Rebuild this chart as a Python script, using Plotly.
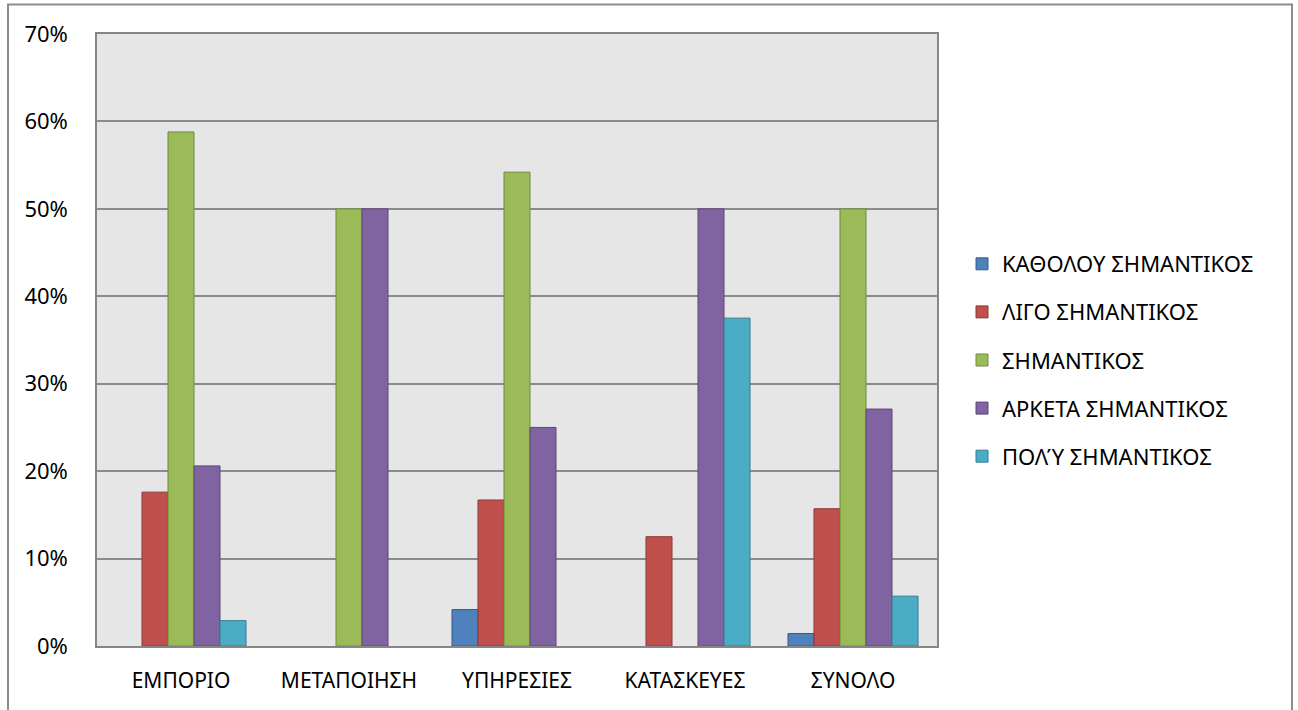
import plotly.graph_objects as go

categories = ["ΕΜΠΟΡΙΟ", "ΜΕΤΑΠΟΙΗΣΗ", "ΥΠΗΡΕΣΙΕΣ", "ΚΑΤΑΣΚΕΥΕΣ", "ΣΥΝΟΛΟ"]
series_names = ["ΚΑΘΟΛΟΥ ΣΗΜΑΝΤΙΚΟΣ", "ΛΙΓΟ ΣΗΜΑΝΤΙΚΟΣ", "ΣΗΜΑΝΤΙΚΟΣ",
                "ΑΡΚΕΤΑ ΣΗΜΑΝΤΙΚΟΣ", "ΠΟΛΎ ΣΗΜΑΝΤΙΚΟΣ"]
# None = no bar shown (0%)
katholou = [None, None, 0.0417, None, 0.0143]
ligo = [0.176, None, 0.167, 0.125, 0.157]
simantikos = [0.588, 0.50, 0.542, None, 0.50]
arketa = [0.206, 0.50, 0.25, 0.50, 0.271]
poly = [0.029, None, None, 0.375, 0.057]
values = [katholou, ligo, simantikos, arketa, poly]
fills = ["#4F81BD", "#C0504D", "#9BBB59", "#8064A2", "#4BACC6"]
edges = ["#385D8A", "#8C3836", "#71893F", "#5C4776", "#357D91"]
yticks = [0, 0.1, 0.2, 0.3, 0.4, 0.5, 0.6, 0.7]

FONT = "Noto Sans"

fig = go.Figure()
for i, (name, vals) in enumerate(zip(series_names, values)):
    fig.add_trace(go.Bar(
        x=categories, y=vals, name=name,
        marker=dict(color=fills[i], line=dict(color=edges[i], width=1)),
        legendgroup=f"g{i}",
    ))

W, H = 1298, 710
L, R, T, B = 97, 937, 34, 646
pw, ph = R - L, B - T

def px_x(x):
    return (x - L) / pw

def px_y(y):
    return (B - y) / ph

fig.update_layout(
    width=W, height=H,
    margin=dict(l=L, r=W - R, t=T, b=H - B, pad=0),
    paper_bgcolor="white",
    plot_bgcolor="#E6E6E6",
    barmode="group",
    bargap=0.226,
    bargroupgap=0,
    font=dict(family=FONT, size=21, color="#000000"),
    showlegend=True,
    legend=dict(
        x=px_x(962), xanchor="left",
        y=px_y(360), yanchor="middle",
        traceorder="grouped",
        tracegroupgap=16.5,
        font=dict(family=FONT, size=22, color="#000000"),
        itemwidth=30,
        bgcolor="rgba(0,0,0,0)",
    ),
    xaxis=dict(
        showgrid=False,
        showline=True, linecolor="#868686", linewidth=1.5, mirror=True,
        ticks="outside", ticklen=15, tickcolor="rgba(0,0,0,0)",
        tickfont=dict(family=FONT, size=21),
    ),
    yaxis=dict(
        range=[0, 0.7],
        tickvals=yticks,
        tickformat=".0%",
        showgrid=True, gridcolor="#8C8C8C", gridwidth=1.5,
        showline=True, linecolor="#868686", linewidth=1.5, mirror=True,
        zeroline=False,
        ticks="outside", ticklen=23, tickcolor="rgba(0,0,0,0)",
        tickfont=dict(family=FONT, size=22),
    ),
    shapes=[dict(
        type="rect", xref="paper", yref="paper",
        x0=px_x(8), x1=px_x(1292), y0=px_y(730), y1=px_y(4.5),
        line=dict(color="#8C8C8C", width=2), fillcolor="rgba(0,0,0,0)",
        layer="below",
    )],
)

fig.write_html("out.html")
